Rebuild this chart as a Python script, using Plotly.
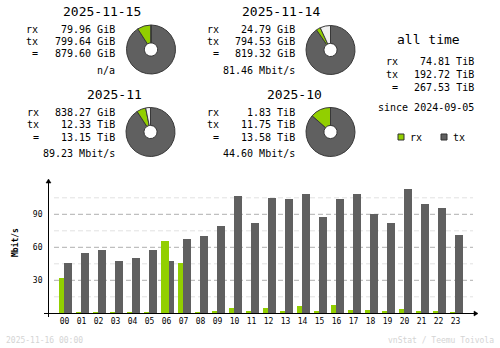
import plotly.graph_objects as go

# ---- data -------------------------------------------------------------
hours = [f"{h:02d}" for h in range(24)]
rx_rate = [32.1, 1.2, 1.2, 1.2, 1.2, 1.2, 65.8, 45.8, 1.2, 2.1, 5.2, 2.1,
           4.8, 2.1, 6.7, 2.1, 7.6, 3.0, 3.0, 2.1, 3.9, 2.1, 2.1, 1.2]
tx_rate = [45.8, 54.8, 57.6, 47.6, 50.3, 57.6, 47.6, 67.6, 70.3, 79.4, 106.7, 82.1,
           104.8, 103.9, 108.5, 87.6, 103.9, 108.5, 90.3, 82.1, 113.0, 99.4, 95.8, 71.2]
y_ticks = [30, 60, 90]
y_minor = [15, 45, 75, 105]

day_labels = ["2025-11-15", "2025-11-14"]
day_rx_gib = [79.96, 24.79]
day_tx_gib = [799.64, 794.53]
day_total_gib = [879.60, 819.32]
day_rate = ["n/a", "81.46 Mbit/s"]

month_labels = ["2025-11", "2025-10"]
month_rx = ["838.27 GiB", "1.83 TiB"]
month_tx = ["12.33 TiB", "11.75 TiB"]
month_total = ["13.15 TiB", "13.58 TiB"]
month_rx_tib = [838.27 / 1024, 1.83]
month_tx_tib = [12.33, 11.75]
month_rate = ["89.23 Mbit/s", "44.60 Mbit/s"]

alltime_rx = "74.81 TiB"
alltime_tx = "192.72 TiB"
alltime_total = "267.53 TiB"
since_date = "2024-09-05"
generated = "2025-11-16 00:00"

# ---- style ------------------------------------------------------------
W, H = 500, 348
RX_COL = "#92cf00"
TX_COL = "#606060"
EMPTY_COL = "#f0f0f0"
MONO = "DejaVu Sans Mono"


def fx(px):
    return px / W


def fy(py):
    return 1 - py / H


annotations = []
shapes = []


def text(x, y, s, size=10, anchor="left", color="#000000", bold=False, angle=0):
    annotations.append(dict(
        x=fx(x), y=fy(y), xref="paper", yref="paper", text=f"<b>{s}</b>" if bold else s,
        showarrow=False, xanchor=anchor, yanchor="middle", textangle=angle,
        font=dict(family=MONO, size=size, color=color), borderpad=0,
    ))


def stat_block(x_left, x_right, y0, rows, rate, rate_y):
    for i, (lab, val) in enumerate(rows):
        yy = y0 + i * 12.5
        text(x_left + (6 if lab == "=" else 0), yy, lab)
        text(x_right, yy, val, anchor="right")
    if rate:
        text(x_right, rate_y, rate, anchor="right")


def usage_pie(rx, tx, scale_max, cx, cy, r=24.5):
    # slices run clockwise from 12 o'clock: tx, rx, then the unused share
    empty = scale_max - (rx + tx)
    return go.Pie(
        values=[tx, rx, empty],
        marker=dict(colors=[TX_COL, RX_COL, EMPTY_COL], line=dict(color="#383838", width=1)),
        sort=False, direction="clockwise", rotation=0, hole=0.27,
        textinfo="none", hoverinfo="skip", showlegend=False,
        domain=dict(x=[fx(cx - r), fx(cx + r)], y=[fy(cy + r), fy(cy - r)]),
    )


fig = go.Figure()

# ---- summary blocks -------------------------------------------------
day_max = max(day_total_gib)
day_pos = [(25, 116, 102, 151, 49.5), (206, 296, 281, 330.5, 50)]
for i, (xl, xr, tcx, pcx, pcy) in enumerate(day_pos):
    text(tcx, 12, day_labels[i], size=13, anchor="center")
    stat_block(xl, xr, 29, [("rx", f"{day_rx_gib[i]:.2f} GiB"),
                            ("tx", f"{day_tx_gib[i]:.2f} GiB"),
                            ("=", f"{day_total_gib[i]:.2f} GiB")], day_rate[i], 70)
    fig.add_trace(usage_pie(day_rx_gib[i], day_tx_gib[i], day_max, pcx, pcy))

month_totals = [a + b for a, b in zip(month_rx_tib, month_tx_tib)]
month_max = max(month_totals)
month_pos = [(26, 116, 114, 150.5, 132), (206, 296, 294, 330.5, 132)]
for i, (xl, xr, tcx, pcx, pcy) in enumerate(month_pos):
    text(tcx, 94, month_labels[i], size=13, anchor="center")
    stat_block(xl, xr, 112, [("rx", month_rx[i]), ("tx", month_tx[i]),
                             ("=", month_total[i])], month_rate[i], 153)
    fig.add_trace(usage_pie(month_rx_tib[i], month_tx_tib[i], month_max, pcx, pcy))

# all time
text(428, 40, "all time", size=13, anchor="center")
stat_block(385, 475, 62, [("rx", alltime_rx), ("tx", alltime_tx), ("=", alltime_total)],
           "", 100)
text(475, 108, f"since {since_date}", anchor="right")

# legend
for sx, col, lab in [(398, RX_COL, "rx"), (441, TX_COL, "tx")]:
    shapes.append(dict(type="rect", xref="paper", yref="paper",
                       x0=fx(sx), x1=fx(sx + 6), y0=fy(140), y1=fy(134),
                       fillcolor=col, line=dict(color="#303030", width=1)))
    text(sx + 11, 137, lab)

# ---- hourly bar chart -------------------------------------------------
x_idx = list(range(len(hours)))
pitch = 17.0
c0 = 64.5
ax_left, ax_right = 48.5, 476
base_y, top_y = 313.3, 183
px_per_unit = 1.1
bar_w = 8 / pitch

fig.add_trace(go.Bar(x=x_idx, y=rx_rate, marker=dict(color=RX_COL, line=dict(width=0)),
                     width=bar_w, offset=-6.5 / pitch, showlegend=False, hoverinfo="skip",
                     xaxis="x", yaxis="y"))
fig.add_trace(go.Bar(x=x_idx, y=tx_rate, marker=dict(color=TX_COL, line=dict(width=0)),
                     width=bar_w, offset=-1.5 / pitch, showlegend=False, hoverinfo="skip",
                     xaxis="x", yaxis="y"))
# where rx is the larger value its bar is drawn in front
rx_front = [r if r > t else None for r, t in zip(rx_rate, tx_rate)]
fig.add_trace(go.Bar(x=x_idx, y=rx_front, marker=dict(color=RX_COL, line=dict(width=0)),
                     width=bar_w, offset=-6.5 / pitch, showlegend=False, hoverinfo="skip",
                     xaxis="x", yaxis="y"))

# dashed guide lines
for v in y_ticks:
    shapes.append(dict(type="line", xref="paper", yref="y", x0=fx(54), x1=fx(473), y0=v, y1=v,
                       line=dict(color="#b0b0b0", width=1, dash="5px,3px"), layer="below"))
for v in y_minor:
    shapes.append(dict(type="line", xref="paper", yref="y", x0=fx(54), x1=fx(473), y0=v, y1=v,
                       line=dict(color="#e2e2e2", width=1, dash="5px,3px"), layer="below"))

# axis lines with arrow heads
shapes.append(dict(type="line", xref="paper", yref="paper", x0=fx(48.5), x1=fx(48.5),
                   y0=fy(317), y1=fy(181), line=dict(color="#000000", width=1)))
shapes.append(dict(type="line", xref="paper", yref="paper", x0=fx(44), x1=fx(475),
                   y0=fy(313.5), y1=fy(313.5), line=dict(color="#000000", width=1)))
shapes.append(dict(type="path", xref="paper", yref="paper",
                   path=f"M {fx(46)} {fy(183)} L {fx(51)} {fy(183)} L {fx(48.5)} {fy(179)} Z",
                   fillcolor="#000000", line=dict(color="#000000", width=0.5)))
shapes.append(dict(type="path", xref="paper", yref="paper",
                   path=f"M {fx(474)} {fy(311)} L {fx(474)} {fy(316)} L {fx(478)} {fy(313.5)} Z",
                   fillcolor="#000000", line=dict(color="#000000", width=0.5)))

text(15, 243, "Mbit/s", size=8, anchor="center", bold=True, angle=-90)
text(5, 340, generated, size=8, color="#d4d4d4")
text(495, 340, "vnStat / Teemu Toivola", size=8, anchor="right", color="#d4d4d4")

fig.update_layout(
    width=W, height=H, margin=dict(l=0, r=0, t=0, b=0),
    paper_bgcolor="#ffffff", plot_bgcolor="rgba(0,0,0,0)",
    barmode="overlay", bargap=0,
    xaxis=dict(domain=[fx(ax_left), fx(ax_right)],
               range=[-(c0 - ax_left) / pitch, (ax_right - c0) / pitch],
               tickmode="array", tickvals=x_idx, ticktext=hours,
               showgrid=False, zeroline=False, showline=False, ticks="",
               tickfont=dict(family=MONO, size=8, color="#000000"),
               ticklabelstandoff=2, fixedrange=True),
    yaxis=dict(domain=[fy(base_y), fy(top_y)],
               range=[0, (base_y - top_y) / px_per_unit],
               tickmode="array", tickvals=y_ticks, ticktext=[str(v) for v in y_ticks],
               showgrid=False, zeroline=False, showline=False, ticks="",
               tickfont=dict(family=MONO, size=8, color="#000000"),
               ticklabelstandoff=5, fixedrange=True),
    annotations=annotations, shapes=shapes,
)

fig.write_html("out.html")
